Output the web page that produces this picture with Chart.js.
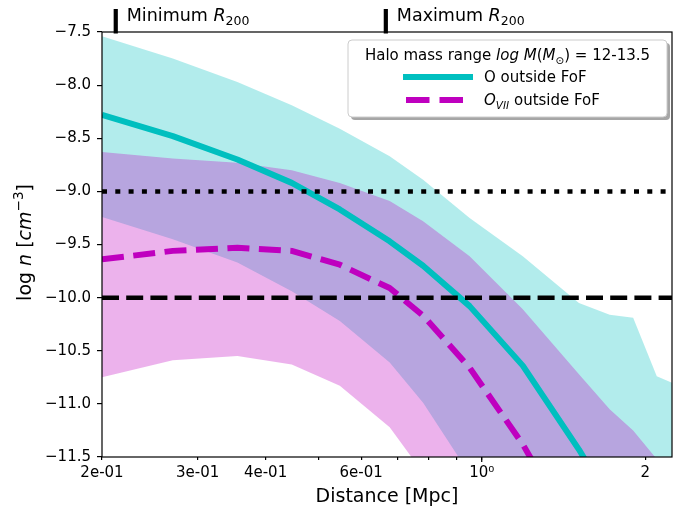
<!DOCTYPE html>
<html>
<head>
<meta charset="utf-8">
<script src="https://cdn.jsdelivr.net/npm/chart.js@4.4.1/dist/chart.umd.min.js"></script>
<style>
  html, body { margin: 0; padding: 0; background: #fff; }
</style>
</head>
<body>
<canvas id="profileChart" width="688" height="511"></canvas>
<script>
// density profiles outside FoF groups, halo mass 12-13.5
const distances  = [0.2, 0.27, 0.355, 0.447, 0.548, 0.677, 0.78, 0.95, 1.19, 1.51, 1.72, 1.9, 2.1, 2.24];
const oUpper     = [-7.54, -7.75, -7.97, -8.19, -8.41, -8.67, -8.89, -9.25, -9.61, -10.05, -10.16, -10.19, -10.74, -10.80];
const oMedian    = [-8.28, -8.48, -8.70, -8.92, -9.17, -9.47, -9.70, -10.08, -10.64, -11.43, -11.91, null, null, null];
const oLower     = [-9.24, -9.45, -9.67, -9.94, -10.22, -10.61, -10.99, -11.66, -12.3, -13.0, -13.4, -13.7, -14.0, -14.2];
const oviiUpper  = [-8.63, -8.69, -8.73, -8.80, -8.92, -9.09, -9.28, -9.61, -10.11, -10.72, -11.05, -11.25, -11.52, -11.62];
const oviiMedian = [-9.64, -9.56, -9.53, -9.56, -9.69, -9.91, -10.17, -10.66, -11.38, -12.3, null, null, null, null];
const oviiLower  = [-10.75, -10.59, -10.55, -10.63, -10.83, -11.22, -11.65, -12.3, -13.0, -13.6, -14.0, -14.3, -14.6, -14.8];

const refLevels  = [-9.0, -10.0];
const r200Values = [0.212, 0.666];
const r200Labels = ['Minimum ', 'Maximum '];

const xTicks      = [0.2, 0.3, 0.4, 0.5, 0.6, 0.7, 0.8, 0.9, 1, 2];
const xTickLabels = ['2e-01', '3e-01', '4e-01', '', '6e-01', '', '', '', '10\u2070', '2'];
const yTicks      = [-11.5, -11.0, -10.5, -10.0, -9.5, -9.0, -8.5, -8.0, -7.5];

const FONT = 'DejaVu Sans';
const CYAN = '#00bfbf';
const MAGENTA = '#bf00bf';

const pts = ys => distances.map((d, i) => ({ x: d, y: ys[i] }));
const flat = lvl => [{ x: distances[0], y: lvl }, { x: distances[distances.length - 1], y: lvl }];

// draw a row of text pieces with different fonts / offsets
function drawRuns(ctx, runs, x, y, align) {
  let total = 0;
  runs.forEach(r => { ctx.font = r.font; r.w = ctx.measureText(r.text).width; total += r.w; });
  let cx = align === 'center' ? x - total / 2 : x;
  ctx.textBaseline = 'alphabetic';
  ctx.textAlign = 'left';
  runs.forEach(r => {
    ctx.font = r.font;
    ctx.fillText(r.text, cx, y + (r.dy || 0));
    cx += r.w;
  });
}

const decor = {
  id: 'decor',
  afterDatasetsDraw(chart) {
    const { ctx, chartArea: a, scales } = chart;
    ctx.save();
    // frame
    ctx.strokeStyle = '#000';
    ctx.lineWidth = 1.2;
    ctx.strokeRect(a.left, a.top, a.right - a.left, a.bottom - a.top);
    // major tick at 10^0
    const x1 = scales.x.getPixelForValue(1);
    ctx.beginPath();
    ctx.moveTo(x1, a.bottom);
    ctx.lineTo(x1, a.bottom + 5);
    ctx.stroke();
    // R200 markers
    ctx.fillStyle = '#000';
    r200Values.forEach((v, i) => {
      const px = scales.x.getPixelForValue(v);
      ctx.lineWidth = 4.2;
      ctx.beginPath();
      ctx.moveTo(px, 9);
      ctx.lineTo(px, a.top + 1.5);
      ctx.stroke();
      drawRuns(ctx, [
        { text: r200Labels[i], font: `17.5px ${FONT}` },
        { text: 'R', font: `italic 17.5px ${FONT}` },
        { text: '200', font: `12.5px ${FONT}`, dy: 4 }
      ], px + 11, 21, 'left');
    });
    ctx.restore();
  },
  afterDraw(chart) {
    const { ctx, chartArea: a } = chart;
    ctx.save();
    // y axis title
    ctx.fillStyle = '#000';
    ctx.translate(31, (a.top + a.bottom) / 2 - 2);
    ctx.rotate(-Math.PI / 2);
    drawRuns(ctx, [
      { text: 'log ', font: `19px ${FONT}` },
      { text: 'n', font: `italic 19px ${FONT}` },
      { text: ' [', font: `19px ${FONT}` },
      { text: 'cm', font: `italic 19px ${FONT}` },
      { text: '\u22123', font: `13.5px ${FONT}`, dy: -8 },
      { text: ']', font: `19px ${FONT}` }
    ], 0, 0, 'center');
    ctx.restore();

    // legend box
    ctx.save();
    const bw = 319, bh = 77;
    const bx = a.right - 5 - bw, by = a.top + 8;
    const rr = 4;
    const rect = (x, y) => {
      ctx.beginPath();
      ctx.roundRect(x, y, bw, bh, rr);
    };
    ctx.fillStyle = 'rgba(77,77,77,0.5)';
    rect(bx + 3, by + 3);
    ctx.fill();
    ctx.fillStyle = '#fff';
    ctx.strokeStyle = '#cccccc';
    ctx.lineWidth = 1;
    rect(bx, by);
    ctx.fill();
    ctx.stroke();

    ctx.fillStyle = '#000';
    drawRuns(ctx, [
      { text: 'Halo mass range ', font: `15px ${FONT}` },
      { text: 'log M', font: `italic 15px ${FONT}` },
      { text: '(', font: `15px ${FONT}` },
      { text: 'M', font: `italic 15px ${FONT}` },
      { text: '\u2299', font: `10.5px ${FONT}`, dy: 3.5 },
      { text: ')', font: `15px ${FONT}` },
      { text: ' = 12-13.5', font: `15px ${FONT}` }
    ], bx + bw / 2, by + 20, 'center');

    const hx0 = bx + 55, hx1 = bx + 125, tx = bx + 136;
    ctx.lineWidth = 6;
    ctx.lineCap = 'butt';
    ctx.strokeStyle = CYAN;
    ctx.beginPath();
    ctx.moveTo(hx0, by + 37);
    ctx.lineTo(hx1, by + 37);
    ctx.stroke();
    ctx.strokeStyle = MAGENTA;
    ctx.setLineDash([23.5, 10]);
    ctx.beginPath();
    ctx.moveTo(hx0 + 3, by + 60);
    ctx.lineTo(hx1, by + 60);
    ctx.stroke();
    ctx.setLineDash([]);

    drawRuns(ctx, [{ text: 'O outside FoF', font: `15px ${FONT}` }], tx, by + 42, 'left');
    drawRuns(ctx, [
      { text: 'O', font: `italic 15px ${FONT}` },
      { text: 'VII', font: `italic 10.5px ${FONT}`, dy: 3.5 },
      { text: ' outside FoF', font: `15px ${FONT}` }
    ], tx, by + 65, 'left');
    ctx.restore();
  }
};

const band = (data, fill, color, order) => ({
  data: pts(data), borderWidth: 0, pointRadius: 0, fill: fill,
  backgroundColor: color, order: order, clip: 0
});

const ctx = document.getElementById('profileChart').getContext('2d');
const chart = new Chart(ctx, {
  type: 'line',
  data: {
    datasets: [
      band(oUpper, false, 'transparent', 11),
      band(oLower, '-1', 'rgba(0,191,191,0.3)', 10),
      band(oviiUpper, false, 'transparent', 9),
      band(oviiLower, '-1', 'rgba(191,0,191,0.3)', 8),
      {
        data: pts(oMedian), borderColor: CYAN, borderWidth: 6, pointRadius: 0,
        borderJoinStyle: 'round', fill: false, order: 3, clip: 0
      },
      {
        data: pts(oviiMedian), borderColor: MAGENTA, borderWidth: 6, pointRadius: 0,
        borderDash: [22, 9.5], borderJoinStyle: 'round', fill: false, order: 2, clip: 0
      },
      {
        data: flat(refLevels[0]), borderColor: '#000', borderWidth: 4.5, pointRadius: 0,
        borderDash: [5, 8.3], fill: false, order: 1, clip: 0
      },
      {
        data: flat(refLevels[1]), borderColor: '#000', borderWidth: 4.5, pointRadius: 0,
        borderDash: [17, 7.2], fill: false, order: 0, clip: 0
      }
    ]
  },
  options: {
    responsive: false,
    animation: false,
    devicePixelRatio: 1,
    layout: { padding: { top: 32, right: 16, left: 0, bottom: 0 } },
    plugins: { legend: { display: false }, tooltip: { enabled: false } },
    scales: {
      x: {
        type: 'logarithmic',
        min: 0.2,
        max: 2.24,
        afterBuildTicks: s => { s.ticks = xTicks.map(v => ({ value: v })); },
        afterFit: s => { s.height = 54; },
        ticks: {
          autoSkip: false, maxRotation: 0, padding: 4, color: '#000',
          font: { family: FONT, size: 15 },
          callback: v => { const i = xTicks.indexOf(v); return i >= 0 ? xTickLabels[i] : ''; }
        },
        grid: { drawOnChartArea: false, drawTicks: true, tickLength: 3, color: '#000', lineWidth: 1.2 },
        border: { display: false },
        title: {
          display: true, text: 'Distance [Mpc]', color: '#000',
          font: { family: FONT, size: 19 }, padding: { top: 0, bottom: 3 }
        }
      },
      y: {
        min: -11.5,
        max: -7.5,
        afterBuildTicks: s => { s.ticks = yTicks.map(v => ({ value: v })); },
        afterFit: s => { s.width = 102; },
        ticks: {
          padding: 6, color: '#000', font: { family: FONT, size: 15 },
          callback: v => v.toFixed(1).replace('-', '\u2212')
        },
        grid: { drawOnChartArea: false, drawTicks: true, tickLength: 5, color: '#000', lineWidth: 1.2 },
        border: { display: false }
      }
    }
  },
  plugins: [decor]
});
</script>
</body>
</html>
